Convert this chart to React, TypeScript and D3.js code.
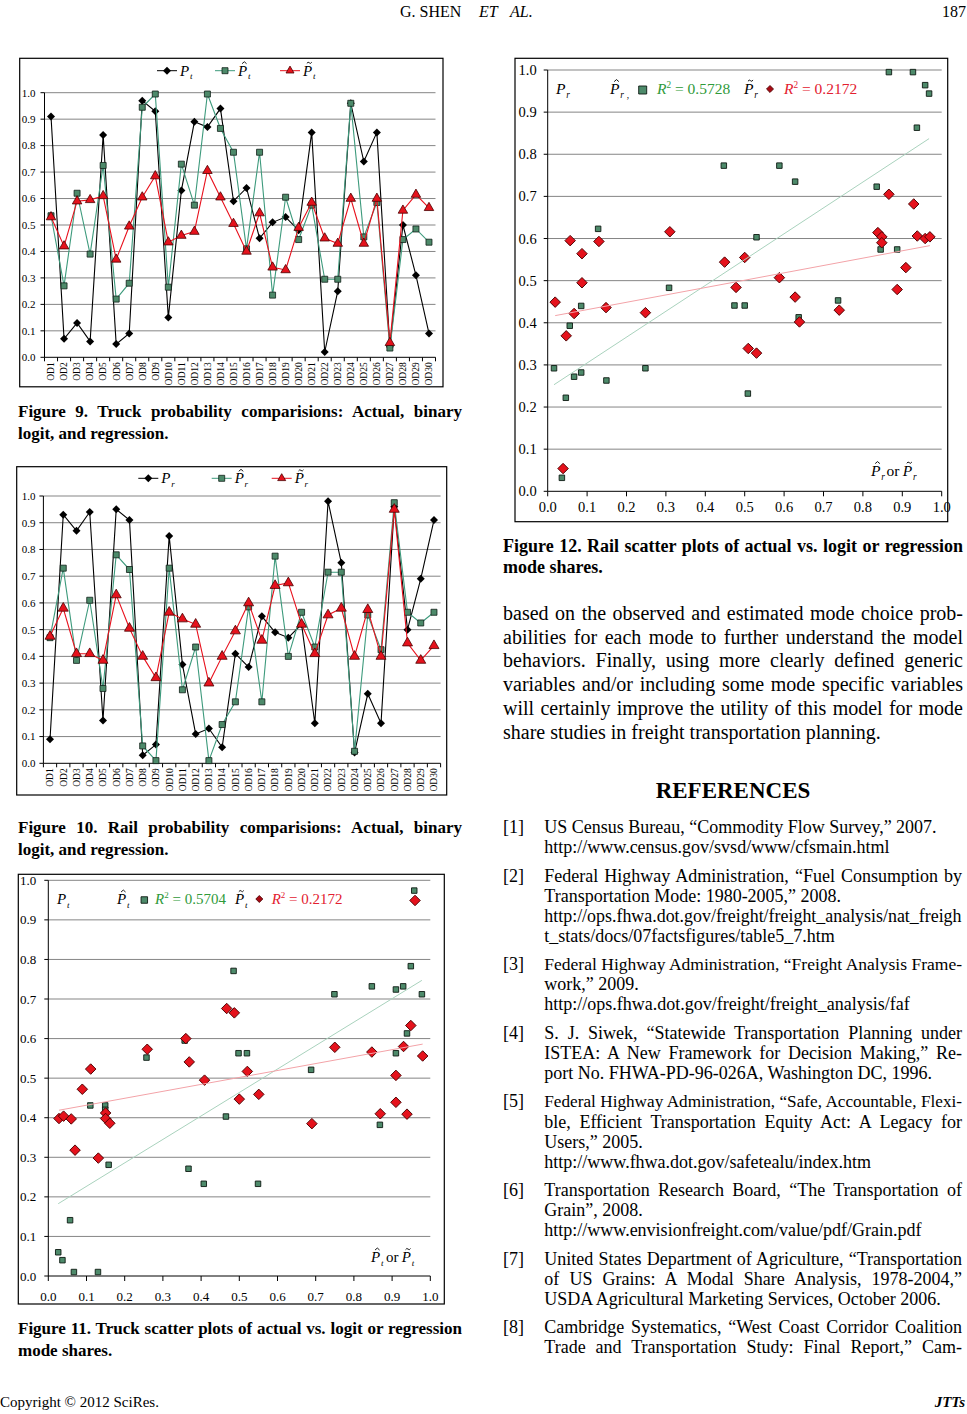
import { useLayoutEffect, useRef } from "react";
import * as d3 from "d3";

// ---- data ----
const odLabels = [
  "OD1", "OD2", "OD3", "OD4", "OD5", "OD6", "OD7", "OD8", "OD9", "OD10",
  "OD11", "OD12", "OD13", "OD14", "OD15", "OD16", "OD17", "OD18", "OD19", "OD20",
  "OD21", "OD22", "OD23", "OD24", "OD25", "OD26", "OD27", "OD28", "OD29", "OD30",
];

const probTicks = [0, 0.1, 0.2, 0.3, 0.4, 0.5, 0.6, 0.7, 0.8, 0.9, 1.0];

const truckActual = [0.91, 0.07, 0.13, 0.06, 0.84, 0.05, 0.09, 0.97, 0.93, 0.15, 0.63, 0.89, 0.87, 0.94, 0.59, 0.64, 0.45, 0.51, 0.53, 0.48, 0.85, 0.02, 0.25, 0.96, 0.74, 0.85, 0.04, 0.5, 0.31, 0.09];
const truckLogit = [0.535, 0.27, 0.62, 0.39, 0.725, 0.22, 0.28, 0.945, 0.995, 0.265, 0.73, 0.575, 0.995, 0.865, 0.775, 0.41, 0.775, 0.235, 0.605, 0.445, 0.575, 0.295, 0.295, 0.96, 0.455, 0.585, 0.035, 0.445, 0.485, 0.435];
const truckReg = [0.53, 0.42, 0.59, 0.595, 0.61, 0.37, 0.495, 0.605, 0.685, 0.435, 0.46, 0.475, 0.705, 0.605, 0.505, 0.4, 0.545, 0.34, 0.33, 0.49, 0.585, 0.45, 0.43, 0.6, 0.43, 0.6, 0.055, 0.555, 0.615, 0.565];

const railActual = [0.09, 0.93, 0.87, 0.94, 0.16, 0.95, 0.91, 0.03, 0.07, 0.85, 0.37, 0.11, 0.13, 0.06, 0.41, 0.36, 0.55, 0.49, 0.47, 0.52, 0.15, 0.98, 0.75, 0.04, 0.26, 0.15, 0.96, 0.5, 0.69, 0.91];
const railLogit = [0.47, 0.73, 0.385, 0.61, 0.28, 0.78, 0.725, 0.065, 0.01, 0.73, 0.275, 0.435, 0.01, 0.145, 0.23, 0.585, 0.23, 0.775, 0.4, 0.565, 0.435, 0.715, 0.715, 0.045, 0.555, 0.425, 0.975, 0.565, 0.525, 0.565];
const railReg = [0.475, 0.58, 0.41, 0.41, 0.385, 0.63, 0.505, 0.4, 0.32, 0.565, 0.54, 0.52, 0.3, 0.4, 0.495, 0.6, 0.46, 0.665, 0.675, 0.52, 0.41, 0.555, 0.58, 0.4, 0.575, 0.4, 0.95, 0.45, 0.385, 0.44];

type Pt = [number, number];

const truckScatterLogit: Pt[] = [
  [0.026, 0.06], [0.037, 0.04], [0.057, 0.141], [0.067, 0.01], [0.13, 0.01], [0.11, 0.431],
  [0.149, 0.431], [0.149, 0.42], [0.158, 0.281], [0.257, 0.552], [0.357, 0.595], [0.367, 0.271],
  [0.407, 0.233], [0.465, 0.403], [0.485, 0.771], [0.498, 0.563], [0.52, 0.563], [0.549, 0.233],
  [0.688, 0.521], [0.749, 0.712], [0.847, 0.732], [0.868, 0.382], [0.91, 0.724], [0.929, 0.732],
  [0.91, 0.563], [0.939, 0.613], [0.949, 0.783], [0.978, 0.712], [0.958, 0.974],
];
const truckScatterReg: Pt[] = [
  [0.028, 0.398], [0.04, 0.404], [0.06, 0.397], [0.07, 0.318], [0.089, 0.472], [0.111, 0.523],
  [0.131, 0.298], [0.15, 0.412], [0.15, 0.398], [0.161, 0.386], [0.259, 0.573], [0.36, 0.6],
  [0.369, 0.541], [0.409, 0.495], [0.467, 0.676], [0.487, 0.665], [0.5, 0.447], [0.521, 0.517],
  [0.551, 0.459], [0.69, 0.385], [0.75, 0.578], [0.847, 0.566], [0.869, 0.41], [0.91, 0.507],
  [0.91, 0.439], [0.93, 0.58], [0.939, 0.409], [0.949, 0.633], [0.98, 0.556], [0.96, 0.949],
];
const railScatterLogit: Pt[] = [
  [0.016, 0.292], [0.036, 0.032], [0.046, 0.222], [0.056, 0.393], [0.067, 0.272], [0.085, 0.44],
  [0.085, 0.282], [0.128, 0.623], [0.149, 0.263], [0.248, 0.292], [0.308, 0.483], [0.447, 0.773],
  [0.474, 0.441], [0.5, 0.441], [0.508, 0.232], [0.53, 0.603], [0.588, 0.773], [0.628, 0.735],
  [0.637, 0.413], [0.737, 0.453], [0.835, 0.723], [0.845, 0.574], [0.887, 0.574], [0.866, 0.995],
  [0.927, 0.995], [0.937, 0.863], [0.958, 0.964], [0.968, 0.944],
];
const railScatterReg: Pt[] = [
  [0.019, 0.449], [0.039, 0.054], [0.047, 0.369], [0.057, 0.595], [0.067, 0.422], [0.087, 0.564],
  [0.087, 0.495], [0.13, 0.593], [0.148, 0.436], [0.248, 0.424], [0.31, 0.616], [0.449, 0.544],
  [0.478, 0.484], [0.5, 0.555], [0.588, 0.507], [0.628, 0.461], [0.639, 0.402], [0.509, 0.339],
  [0.53, 0.328], [0.74, 0.43], [0.838, 0.614], [0.848, 0.604], [0.848, 0.59], [0.866, 0.705],
  [0.887, 0.479], [0.909, 0.531], [0.929, 0.682], [0.938, 0.606], [0.958, 0.6], [0.97, 0.604],
];

const truckR2 = ["0.5704", "0.2172"];
const railR2 = ["0.5728", "0.2172"];

const captions = {
  fig9: ["Figure 9. Truck probability comparisions: Actual, binary", "logit, and regression."],
  fig10: ["Figure 10. Rail probability comparisions: Actual, binary", "logit, and regression."],
  fig11: ["Figure 11. Truck scatter plots of actual vs. logit or regression", "mode shares."],
  fig12: ["Figure 12. Rail scatter plots of actual vs. logit or regression", "mode shares."],
};

const bodyLines = [
  "based on the observed and estimated mode choice prob-",
  "abilities for each mode to further understand the model",
  "behaviors. Finally, using more clearly defined generic",
  "variables and/or including some mode specific variables",
  "will certainly improve the utility of this model for mode",
  "share studies in freight transportation planning.",
];

// each line: [text, justified]
const references: [string, boolean][][] = [
  [["US Census Bureau, \u201cCommodity Flow Survey,\u201d 2007.", false], ["http://www.census.gov/svsd/www/cfsmain.html", false]],
  [["Federal Highway Administration, \u201cFuel Consumption by", true], ["Transportation Mode: 1980-2005,\u201d 2008.", false],
   ["http://ops.fhwa.dot.gov/freight/freight_analysis/nat_freigh", true], ["t_stats/docs/07factsfigures/table5_7.htm", false]],
  [["Federal Highway Administration, \u201cFreight Analysis Frame-", true], ["work,\u201d 2009.", false],
   ["http://ops.fhwa.dot.gov/freight/freight_analysis/faf", false]],
  [["S. J. Siwek, \u201cStatewide Transportation Planning under", true], ["ISTEA: A New Framework for Decision Making,\u201d Re-", true],
   ["port No. FHWA-PD-96-026A, Washington DC, 1996.", false]],
  [["Federal Highway Administration, \u201cSafe, Accountable, Flexi-", true], ["ble, Efficient Transportation Equity Act: A Legacy for", true],
   ["Users,\u201d 2005.", false], ["http://www.fhwa.dot.gov/safetealu/index.htm", false]],
  [["Transportation Research Board, \u201cThe Transportation of", true], ["Grain\u201d, 2008.", false],
   ["http://www.envisionfreight.com/value/pdf/Grain.pdf", false]],
  [["United States Department of Agriculture, \u201cTransportation", true], ["of US Grains: A Modal Share Analysis, 1978-2004,\u201d", true],
   ["USDA Agricultural Marketing Services, October 2006.", false]],
  [["Cambridge Systematics, \u201cWest Coast Corridor Coalition", true], ["Trade and Transportation Study: Final Report,\u201d Cam-", true]],
];

// ---- styling ----
const SERIF = "'Liberation Serif', 'Times New Roman', serif";
const GRID = "#858585";
const GREEN_LINE = "#3d9a7c";
const SQUARE_FILL = "#4d8a6a";
const RED_LINE = "#e8101c";
const RED_FILL = "#e5121c";
const RED_STROKE = "#4a0000";
const TREND_GREEN = "#a9d2bd";
const TREND_RED = "#f3a3a8";
const R2_GREEN = "#2f9a3a";
const R2_RED = "#e3202f";

const diamond = (size: number) => d3.symbol(d3.symbolSquare, size * size / 2)() as string;
const square = (size: number) => d3.symbol(d3.symbolSquare, size * size)() as string;
const triangle = (side: number) => d3.symbol(d3.symbolTriangle, (side * side * Math.sqrt(3)) / 4)() as string;

// justified line: shrink the font if the line is too long, then spread the words
function JText({ x, y, w, text, size, bold = false, justify = false }: {
  x: number; y: number; w: number; text: string; size: number; bold?: boolean; justify?: boolean;
}) {
  const ref = useRef<SVGTextElement>(null);
  useLayoutEffect(() => {
    const el = ref.current;
    if (!el) return;
    el.style.wordSpacing = "0px";
    el.setAttribute("font-size", String(size));
    let len = el.getComputedTextLength();
    if (len > w) {
      el.setAttribute("font-size", String(Math.floor(size * (w / len) * 100) / 100));
      len = el.getComputedTextLength();
    }
    const n = (text.match(/ /g) || []).length;
    if (justify && n > 0 && len < w) el.style.wordSpacing = `${(w - len) / n}px`;
  }, [text, w, justify, size]);
  return (
    <text ref={ref} x={x} y={y} fontSize={size} fontWeight={bold ? "bold" : "normal"} fontFamily={SERIF}>
      {text}
    </text>
  );
}

// italic P with optional hat / tilde accent and a subscript
function PSym({ x, y, sub, mark, size }: { x: number; y: number; sub: string; mark?: "hat" | "tilde"; size: number }) {
  const cx = x + size * 0.42;
  const top = y - size * 0.8;
  const aw = size * 0.15;
  let accent = "";
  if (mark === "hat") accent = `M${cx - aw},${top} L${cx},${top - size * 0.13} L${cx + aw},${top}`;
  if (mark === "tilde")
    accent = `M${cx - aw * 1.1},${top - size * 0.02} Q${cx - aw * 0.55},${top - size * 0.16} ${cx},${top - size * 0.06} T${cx + aw * 1.1},${top - size * 0.1}`;
  return (
    <g fontFamily={SERIF} fill="#000">
      <text x={x} y={y} fontSize={size} fontStyle="italic">P</text>
      {mark && <path d={accent} fill="none" stroke="#000" strokeWidth={size * 0.06} />}
      <text x={x + size * 0.66} y={y + size * 0.24} fontSize={size * 0.6} fontStyle="italic">{sub}</text>
    </g>
  );
}

type Box = { x: number; y: number; w: number; h: number };
type Plot = { left: number; right: number; top: number; bottom: number };

function LineChart({ box, plot, actual, logit, reg, sub, legend, labelGap, triSide }: {
  box: Box; plot: Plot; actual: number[]; logit: number[]; reg: number[]; sub: string;
  legend: { y: number; xs: number[] }; labelGap: number; triSide: number;
}) {
  const x = d3.scaleBand<string>().domain(odLabels).range([plot.left, plot.right]);
  const y = d3.scaleLinear().domain([0, 1]).range([plot.bottom, plot.top]);
  const cx = (i: number) => (x(odLabels[i]) as number) + x.bandwidth() / 2;
  const line = d3.line<number>().x((_, i) => cx(i)).y((d) => y(d));
  const bounds = [...odLabels.map((l) => x(l) as number), plot.right];

  const legendItem = (lx: number, kind: "d" | "s" | "t", mark?: "hat" | "tilde") => (
    <g>
      <line x1={lx - 10} x2={lx + 10} y1={legend.y} y2={legend.y}
        stroke={kind === "d" ? "#000" : kind === "s" ? GREEN_LINE : RED_LINE} />
      {kind === "d" && <path d={diamond(8)} transform={`translate(${lx},${legend.y}) rotate(45)`} fill="#000" />}
      {kind === "s" && <path d={square(6)} transform={`translate(${lx},${legend.y})`} fill={SQUARE_FILL} stroke="#102018" strokeWidth={0.8} />}
      {kind === "t" && <path d={triangle(8)} transform={`translate(${lx},${legend.y})`} fill={RED_FILL} stroke={RED_STROKE} strokeWidth={0.8} />}
      <PSym x={lx + 13} y={legend.y + 5} sub={sub} mark={mark} size={15} />
    </g>
  );

  return (
    <g>
      <rect x={box.x} y={box.y} width={box.w} height={box.h} fill="none" stroke="#000" strokeWidth={1.2} />
      {probTicks.filter((t) => t > 0).map((t) => (
        <line key={t} x1={plot.left} x2={plot.right} y1={y(t)} y2={y(t)} stroke={GRID} strokeWidth={1} />
      ))}
      <line x1={plot.left} x2={plot.left} y1={y(0)} y2={y(1)} stroke="#000" />
      <line x1={plot.left} x2={plot.right} y1={y(0)} y2={y(0)} stroke="#000" />
      {probTicks.map((t) => (
        <g key={t}>
          <line x1={plot.left - 4} x2={plot.left} y1={y(t)} y2={y(t)} stroke="#000" />
          <text x={plot.left - labelGap} y={y(t)} dy="0.35em" textAnchor="end" fontSize={11} fontFamily={SERIF}>
            {t.toFixed(1)}
          </text>
        </g>
      ))}
      {bounds.map((b, i) => (
        <line key={i} x1={b} x2={b} y1={y(0)} y2={y(0) + 4} stroke="#000" />
      ))}
      {odLabels.map((l, i) => (
        <text key={l} transform={`translate(${cx(i)},${y(0) + 5}) rotate(-90)`} dy="0.35em" textAnchor="end"
          fontSize={9.5} fontFamily={SERIF}>
          {l}
        </text>
      ))}

      <path d={line(actual) as string} fill="none" stroke="#000" strokeWidth={1.1} />
      {actual.map((v, i) => (
        <path key={i} d={diamond(8)} transform={`translate(${cx(i)},${y(v)}) rotate(45)`} fill="#000" />
      ))}
      <path d={line(logit) as string} fill="none" stroke={GREEN_LINE} strokeWidth={1.1} />
      {logit.map((v, i) => (
        <path key={i} d={square(6)} transform={`translate(${cx(i)},${y(v)})`} fill={SQUARE_FILL} stroke="#102018" strokeWidth={0.8} />
      ))}
      <path d={line(reg) as string} fill="none" stroke={RED_LINE} strokeWidth={1.1} />
      {reg.map((v, i) => (
        <path key={i} d={triangle(triSide)} transform={`translate(${cx(i)},${y(v)})`} fill={RED_FILL} stroke={RED_STROKE} strokeWidth={0.8} />
      ))}

      {legendItem(legend.xs[0], "d")}
      {legendItem(legend.xs[1], "s", "hat")}
      {legendItem(legend.xs[2], "t", "tilde")}
    </g>
  );
}

// least-squares trend line between the extreme x values
function fit(pts: Pt[]) {
  const mx = d3.mean(pts, (p) => p[0]) as number;
  const my = d3.mean(pts, (p) => p[1]) as number;
  const sxy = d3.sum(pts, (p) => (p[0] - mx) * (p[1] - my));
  const sxx = d3.sum(pts, (p) => (p[0] - mx) ** 2);
  const b = sxy / sxx;
  const a = my - b * mx;
  const [x0, x1] = d3.extent(pts, (p) => p[0]) as [number, number];
  return [[x0, a + b * x0], [x1, a + b * x1]] as Pt[];
}

function ScatterChart({ box, plot, logitPts, regPts, sub, r2, tickSize, labelGap, xLabelY, legend, axisLabel, comma }: {
  box: Box; plot: Plot; logitPts: Pt[]; regPts: Pt[]; sub: string; r2: string[]; tickSize: number;
  labelGap: number; xLabelY: number;
  legend: { y: number; p: number; ph: number; sq: number; r2g: number; pt: number; dm: number; r2r: number; size: number; sqSize: number };
  axisLabel: { x: number; y: number }; comma?: boolean;
}) {
  const x = d3.scaleLinear().domain([0, 1]).range([plot.left, plot.right]);
  const y = d3.scaleLinear().domain([0, 1]).range([plot.bottom, plot.top]);
  const line = d3.line<Pt>().x((d) => x(d[0])).y((d) => y(d[1]));
  const gFit = fit(logitPts);
  const rFit = fit(regPts);
  const L = legend;

  const r2Text = (xx: number, val: string, color: string) => (
    <text x={xx} y={L.y} fontSize={L.size} fontFamily={SERIF} fill={color}>
      <tspan fontStyle="italic">R</tspan>
      <tspan fontSize={L.size * 0.6} dy={-L.size * 0.4}>2</tspan>
      <tspan dy={L.size * 0.4}>{` = ${val}`}</tspan>
    </text>
  );

  return (
    <g>
      <rect x={box.x} y={box.y} width={box.w} height={box.h} fill="none" stroke="#000" strokeWidth={1.2} />
      {probTicks.filter((t) => t > 0).map((t) => (
        <line key={t} x1={plot.left} x2={plot.right} y1={y(t)} y2={y(t)} stroke={GRID} strokeWidth={1} />
      ))}
      <line x1={plot.left} x2={plot.left} y1={y(0)} y2={y(1)} stroke="#000" />
      <line x1={plot.left} x2={plot.right} y1={y(0)} y2={y(0)} stroke="#000" />
      {probTicks.map((t) => (
        <g key={t}>
          <line x1={plot.left - 4} x2={plot.left} y1={y(t)} y2={y(t)} stroke="#000" />
          <text x={plot.left - labelGap} y={y(t)} dy="0.35em" textAnchor="end" fontSize={tickSize} fontFamily={SERIF}>
            {t.toFixed(1)}
          </text>
          <line x1={x(t)} x2={x(t)} y1={y(0)} y2={y(0) + 5} stroke="#000" />
          <text x={x(t)} y={xLabelY} textAnchor="middle" fontSize={tickSize} fontFamily={SERIF}>
            {t.toFixed(1)}
          </text>
        </g>
      ))}

      {logitPts.map((p, i) => (
        <path key={i} d={square(5.5)} transform={`translate(${x(p[0])},${y(p[1])})`} fill={SQUARE_FILL} stroke="#0d1a12" strokeWidth={0.9} />
      ))}
      {regPts.map((p, i) => (
        <path key={i} d={diamond(10.5)} transform={`translate(${x(p[0])},${y(p[1])}) rotate(45)`} fill={RED_FILL} stroke={RED_STROKE} strokeWidth={0.9} />
      ))}
      <path d={line(gFit) as string} stroke={TREND_GREEN} strokeWidth={1} fill="none" />
      <path d={line(rFit) as string} stroke={TREND_RED} strokeWidth={1} fill="none" />

      <PSym x={L.p} y={L.y} sub={sub} size={L.size} />
      <PSym x={L.ph} y={L.y} sub={sub} mark="hat" size={L.size} />
      {comma && <text x={L.ph + L.size * 1.08} y={L.y + 4} fontSize={L.size * 0.6} fontFamily={SERIF}>,</text>}
      <path d={square(L.sqSize)} transform={`translate(${L.sq},${L.y - 4})`} fill={SQUARE_FILL} stroke="#0d1a12" strokeWidth={0.9} />
      {r2Text(L.r2g, r2[0], R2_GREEN)}
      <PSym x={L.pt} y={L.y} sub={sub} mark="tilde" size={L.size} />
      <path d={diamond(7)} transform={`translate(${L.dm},${L.y - 5}) rotate(45)`} fill="#a80a14" stroke={RED_STROKE} strokeWidth={0.8} />
      {r2Text(L.r2r, r2[1], R2_RED)}

      <PSym x={axisLabel.x} y={axisLabel.y} sub={sub} mark="hat" size={L.size} />
      <text x={axisLabel.x + L.size * 1.0} y={axisLabel.y} fontSize={L.size} fontFamily={SERIF}>or</text>
      <PSym x={axisLabel.x + L.size * 2.05} y={axisLabel.y} sub={sub} mark="tilde" size={L.size} />
    </g>
  );
}

function Caption({ x, y, w, lines, size }: { x: number; y: number; w: number; lines: string[]; size: number }) {
  return (
    <g>
      {lines.map((l, i) => (
        <JText key={i} x={x} y={y + i * 21.7} w={w} text={l} size={size} bold justify={i < lines.length - 1} />
      ))}
    </g>
  );
}

function References() {
  let yy = 833;
  const out: JSX.Element[] = [];
  references.forEach((ref, k) => {
    out.push(
      <text key={`n${k}`} x={503} y={yy} fontSize={18} fontFamily={SERIF}>{`[${k + 1}]`}</text>
    );
    ref.forEach(([t, j], i) => {
      out.push(<JText key={`${k}-${i}`} x={544.3} y={yy + i * 20.1} w={962 - 544.3} text={t} size={18} justify={j} />);
    });
    yy += (ref.length - 1) * 20.1 + 28.4;
  });
  return <g>{out}</g>;
}

export default function App() {
  return (
    <svg width={967} height={1414} style={{ position: "absolute", left: 0, top: 0, background: "#fff" }}
      fontFamily={SERIF}>
      <rect x={0} y={0} width={967} height={1414} fill="#fff" />

      {/* running head */}
      <text x={400} y={17} fontSize={16}>G. SHEN</text>
      <text x={479} y={17} fontSize={16} fontStyle="italic">ET</text>
      <text x={510} y={17} fontSize={16} fontStyle="italic">AL.</text>
      <text x={966} y={17} fontSize={16} textAnchor="end">187</text>

      <LineChart
        box={{ x: 19.7, y: 58.3, w: 423.3, h: 328.5 }}
        plot={{ left: 44.5, right: 435.5, top: 92.7, bottom: 357.3 }}
        actual={truckActual} logit={truckLogit} reg={truckReg} sub="t"
        legend={{ y: 70.7, xs: [167, 225, 290] }} labelGap={9} triSide={9.5}
      />
      <Caption x={18} y={417} w={444} lines={captions.fig9} size={17} />

      <LineChart
        box={{ x: 16.7, y: 466.7, w: 430, h: 328.3 }}
        plot={{ left: 43.4, right: 440.6, top: 496, bottom: 763.3 }}
        actual={railActual} logit={railLogit} reg={railReg} sub="r"
        legend={{ y: 478.3, xs: [148.3, 221.7, 281.7] }} labelGap={8} triSide={10}
      />
      <Caption x={18} y={833} w={444} lines={captions.fig10} size={17} />

      <ScatterChart
        box={{ x: 18.3, y: 874.3, w: 426, h: 429.7 }}
        plot={{ left: 48.3, right: 430.3, top: 880.3, bottom: 1276 }}
        logitPts={truckScatterLogit} regPts={truckScatterReg} sub="t" r2={truckR2}
        tickSize={13} labelGap={12} xLabelY={1301}
        legend={{ y: 904, p: 57, ph: 117, sq: 144.3, r2g: 155, pt: 235, dm: 259.3, r2r: 271.7, size: 15, sqSize: 6.5 }}
        axisLabel={{ x: 371, y: 1262 }}
      />
      <Caption x={18} y={1334} w={444} lines={captions.fig11} size={17} />

      <ScatterChart
        box={{ x: 515, y: 58.3, w: 432.7, h: 463.4 }}
        plot={{ left: 547.7, right: 941.7, top: 70, bottom: 491.3 }}
        logitPts={railScatterLogit} regPts={railScatterReg} sub="r" r2={railR2}
        tickSize={14.5} labelGap={11} xLabelY={511.7}
        legend={{ y: 94, p: 556, ph: 610, sq: 642.7, r2g: 657, pt: 744, dm: 770, r2r: 784, size: 15.5, sqSize: 8 }}
        axisLabel={{ x: 871, y: 476 }} comma
      />
      <Caption x={503} y={551.7} w={460} lines={captions.fig12} size={18} />

      {bodyLines.map((l, i) => (
        <JText key={i} x={503} y={620 + i * 23.7} w={460} text={l} size={20} justify={i < bodyLines.length - 1} />
      ))}

      <text x={733} y={798} fontSize={23} fontWeight="bold" textAnchor="middle">REFERENCES</text>
      <References />

      {/* footer */}
      <text x={0} y={1407} fontSize={15}>Copyright © 2012 SciRes.</text>
      <text x={965} y={1407} fontSize={15} fontWeight="bold" fontStyle="italic" textAnchor="end">JTTs</text>
    </svg>
  );
}
